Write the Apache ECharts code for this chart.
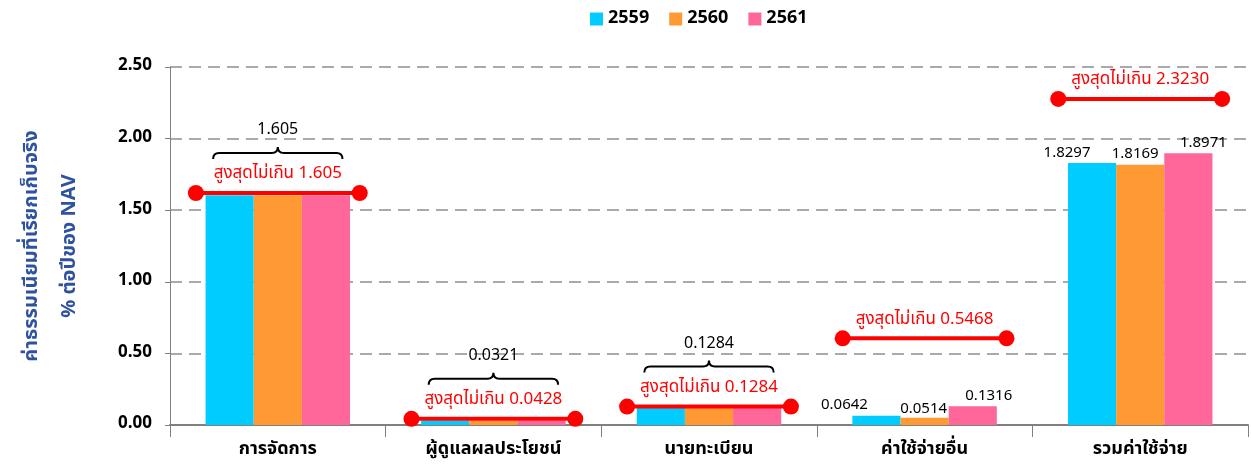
<!DOCTYPE html>
<html>
<head>
<meta charset="utf-8">
<script src="https://cdn.jsdelivr.net/npm/echarts@6/dist/echarts.min.js"></script>
<style>
  html, body { margin: 0; padding: 0; background: #fff; }
  #main { width: 1251px; height: 468px; }
</style>
</head>
<body>
<div id="main"></div>
<script>
// ข้อมูล
var categories = ['การจัดการ', 'ผู้ดูแลผลประโยชน์', 'นายทะเบียน', 'ค่าใช้จ่ายอื่น', 'รวมค่าใช้จ่าย'];
var years = ['2559', '2560', '2561'];
var fee2559 = [1.605, 0.0321, 0.1284, 0.0642, 1.8297];
var fee2560 = [1.605, 0.0321, 0.1284, 0.0514, 1.8169];
var fee2561 = [1.605, 0.0321, 0.1284, 0.1316, 1.8971];
// เพดานค่าธรรมเนียม (ระดับที่วาดในภาพ และข้อความ)
var limitLevels = [1.62, 0.0428, 0.1284, 0.605, 2.277];
var limitLabels = ['1.605', '0.0428', '0.1284', '0.5468', '2.3230'];
// วงเล็บปีกกา
var braceValues = [1.605, 0.0321, 0.1284, null, null];
var yTicks = [0, 0.5, 1.0, 1.5, 2.0, 2.5];

var colors = ['#00CCFF', '#FF9933', '#FF6699'];
var thaiFont = '"Noto Sans Thai", "Noto Sans", "DejaVu Sans", sans-serif';
// ตำแหน่งป้ายค่าบนแท่ง (เฉพาะ 2 กลุ่มหลัง)
var labelOffsets = [
  [[-32, 0], [-25, 0]],
  [[-1, 2], [-5, 0]],
  [[16, 0], [15, 0]]
];

var chart = echarts.init(document.getElementById('main'));

function barSeries(name, values, si) {
  return {
    name: name,
    type: 'bar',
    barGap: '0%',
    barCategoryGap: '33%',
    itemStyle: { color: colors[si] },
    data: values.map(function (v, i) {
      var item = { value: v };
      if (i >= 3) {
        item.label = {
          show: true,
          position: 'top',
          distance: 2,
          offset: labelOffsets[si][i - 3],
          color: '#000',
          fontSize: 15,
          fontFamily: thaiFont,
          formatter: function (p) { return p.value.toFixed(4); }
        };
      }
      return item;
    })
  };
}

function renderLimit(params, api) {
  var idx = api.value(0);
  var pt = api.coord([idx, api.value(1)]);
  var band = api.size([1, 0])[0];
  var hw = band * 0.38;
  var x0 = pt[0] - hw, x1 = pt[0] + hw, y = pt[1];
  var red = '#FF0000';
  return {
    type: 'group',
    children: [
      { type: 'line', shape: { x1: x0, y1: y, x2: x1, y2: y }, style: { stroke: red, lineWidth: 4 } },
      { type: 'circle', shape: { cx: x0, cy: y, r: 8 }, style: { fill: red } },
      { type: 'circle', shape: { cx: x1, cy: y, r: 8 }, style: { fill: red } },
      {
        type: 'text',
        style: {
          text: 'สูงสุดไม่เกิน ' + limitLabels[idx],
          x: pt[0], y: y - 18,
          align: 'center', verticalAlign: 'middle',
          fill: red, fontSize: 17, fontFamily: thaiFont
        }
      }
    ]
  };
}

function renderBrace(params, api) {
  var idx = api.value(0);
  var ref = api.coord([idx, limitLevels[idx]]);
  var band = api.size([1, 0])[0];
  var hw = band * 0.3;
  var cx = ref[0], L = cx - hw, R = cx + hw;
  var yb = ref[1] - 34;
  var h = 6;
  var d = 'M' + L + ' ' + yb +
    ' Q' + L + ' ' + (yb - h) + ' ' + (L + h) + ' ' + (yb - h) +
    ' L' + (cx - h) + ' ' + (yb - h) +
    ' Q' + cx + ' ' + (yb - h) + ' ' + cx + ' ' + (yb - 2 * h) +
    ' Q' + cx + ' ' + (yb - h) + ' ' + (cx + h) + ' ' + (yb - h) +
    ' L' + (R - h) + ' ' + (yb - h) +
    ' Q' + R + ' ' + (yb - h) + ' ' + R + ' ' + yb;
  return {
    type: 'group',
    children: [
      { type: 'path', shape: { pathData: d }, style: { stroke: '#000', lineWidth: 2, fill: null } },
      {
        type: 'text',
        style: {
          text: String(api.value(1)),
          x: cx, y: yb - 2 * h - 16,
          align: 'center', verticalAlign: 'middle',
          fill: '#000', fontSize: 16, fontFamily: thaiFont
        }
      }
    ]
  };
}

var limitData = limitLevels.map(function (v, i) { return [i, v]; });
var braceData = [];
braceValues.forEach(function (v, i) { if (v !== null) braceData.push([i, v]); });

var option = {
  animation: false,
  color: colors,
  legend: {
    top: 5,
    left: 585,
    itemWidth: 13,
    itemHeight: 13,
    itemGap: 20,
    icon: 'rect',
    textStyle: { fontSize: 18, fontWeight: 'bold', color: '#000', fontFamily: thaiFont },
    data: years
  },
  grid: { left: 170, right: 3, top: 67, bottom: 43, outerBoundsMode: 'none' },
  xAxis: {
    type: 'category',
    data: categories,
    axisLine: { lineStyle: { color: '#808080', width: 2 } },
    axisTick: { show: true, length: 12, lineStyle: { color: '#808080' } },
    axisLabel: { fontSize: 18, fontWeight: 'bold', color: '#000', margin: 16, fontFamily: thaiFont }
  },
  yAxis: {
    type: 'value',
    min: yTicks[0],
    max: yTicks[yTicks.length - 1],
    interval: 0.5,
    name: 'ค่าธรรมเนียมที่เรียกเก็บจริง\n% ต่อปีของ NAV',
    nameLocation: 'middle',
    nameRotate: 90,
    nameGap: 80,
    nameTextStyle: { color: '#2F52A0', fontSize: 20, fontWeight: 'bold', lineHeight: 38, fontFamily: thaiFont },
    axisLine: { show: true, lineStyle: { color: '#808080' } },
    axisTick: { show: true, length: 5, lineStyle: { color: '#808080' } },
    axisLabel: {
      fontSize: 17, fontWeight: 'bold', color: '#000', margin: 18, fontFamily: thaiFont,
      formatter: function (v) { return v.toFixed(2); }
    },
    splitLine: { lineStyle: { color: '#AAAAAA', type: [12, 7], width: 2 } }
  },
  series: [
    barSeries(years[0], fee2559, 0),
    barSeries(years[1], fee2560, 1),
    barSeries(years[2], fee2561, 2),
    {
      type: 'custom',
      name: 'limit',
      renderItem: renderLimit,
      data: limitData,
      encode: { x: 0, y: 1 },
      z: 10,
      silent: true
    },
    {
      type: 'custom',
      name: 'brace',
      renderItem: renderBrace,
      data: braceData,
      encode: { x: 0, y: 1 },
      z: 10,
      silent: true
    }
  ]
};

chart.setOption(option);
</script>
</body>
</html>
